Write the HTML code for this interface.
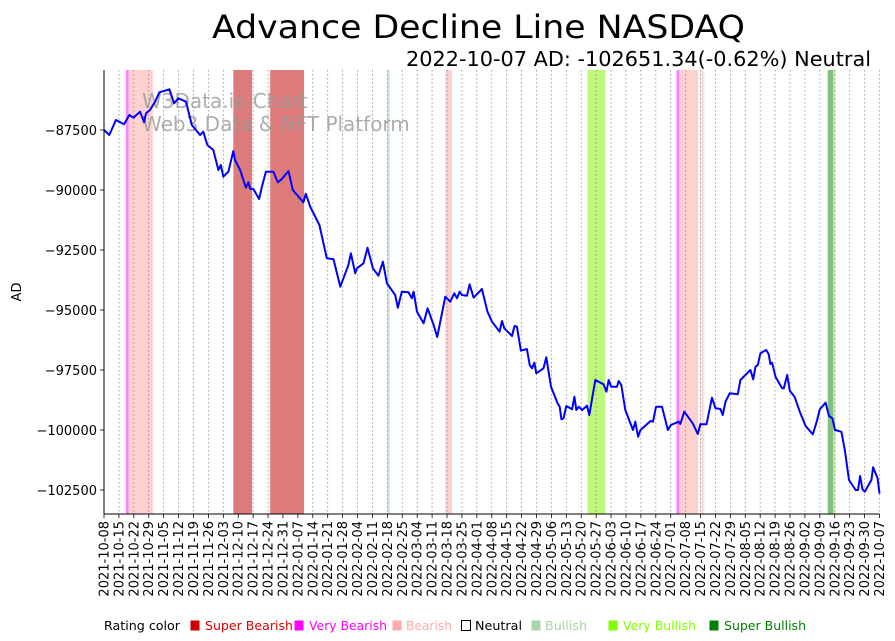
<!DOCTYPE html>
<html><head><meta charset="utf-8"><style>
body{margin:0;background:#fff;width:895px;height:641px;overflow:hidden;font-family:"DejaVu Sans","Liberation Sans",sans-serif}
svg{position:absolute;left:0;top:0;font-family:"DejaVu Sans","Liberation Sans",sans-serif}
</style></head><body>
<svg id="chart" width="895" height="641" xmlns="http://www.w3.org/2000/svg"></svg>
<script>
// data: day offset from 2021-10-08, AD value
const days=[0,2.5,5.6,9.4,11.9,13.8,16.9,18.8,19.7,21.6,24,26,30.7,32.9,34.9,38.5,41.2,45.1,46.6,48.5,51.3,53.7,54.8,56,58.4,60.7,61.5,63.9,66.6,67.8,68.6,70.1,72.8,74.1,76,79.5,81.6,83.5,86.6,88.6,93.6,94.7,96.8,101.1,104.6,107.7,110.9,114.7,115.9,117.9,118.7,121.8,123.7,126.2,128.8,130.9,132.8,136.7,137.9,139.8,142.9,144.5,145.3,146.9,150,151.9,154.7,156.4,160.2,162.5,164.4,165.7,166.9,168,170.4,171.6,173.5,177.4,180,182.1,185.7,186.8,187.9,191.5,192.7,193.8,195.7,198.5,199.8,200.9,202,202.9,206.3,207.6,209.8,212.9,213.9,214.7,215.7,217,219.7,220.8,221.7,222.8,224.4,226.7,227.8,230.6,234.5,235.8,236.9,238,240.8,241.6,242.8,244.7,248.3,249.4,250.7,251.8,256.5,257.7,259.1,261.9,264.7,266.1,269.7,270.5,272.4,276.3,278.7,279.9,282.8,285.4,287,289.3,290.4,291.7,293.7,297.5,298.7,303.4,304.7,305.8,306.9,308.1,310.8,312,312.8,313.6,315.2,318.3,319.1,320.7,321.9,324.1,326.6,329.3,332.7,334.5,336,338.7,340.3,341.9,343.1,346.1,347.7,349.7,352.8,353.9,354.9,356,357.1,360.2,361,363.1,364];
const adValues=[-87500,-87710,-87083,-87262,-86875,-86988,-86738,-87179,-86804,-86667,-86321,-85929,-85804,-86388,-86179,-86321,-87292,-87708,-87571,-88125,-88333,-89167,-88958,-89446,-89238,-88375,-88750,-89167,-89904,-89679,-89958,-89958,-90375,-89863,-89238,-89238,-89679,-89542,-89208,-90000,-90513,-90154,-90696,-91458,-92846,-92888,-94029,-93125,-92638,-93471,-93263,-93054,-92404,-93263,-93571,-92988,-93888,-94375,-94904,-94238,-94263,-94513,-94238,-95071,-95554,-94929,-95625,-96125,-94446,-94654,-94304,-94513,-94238,-94375,-94404,-93929,-94488,-94125,-95071,-95488,-95904,-95458,-95763,-96083,-95667,-95696,-96696,-96625,-97292,-97429,-97196,-97638,-97429,-96971,-98196,-98888,-99029,-99554,-99513,-99000,-99138,-98613,-99167,-99029,-99167,-98988,-99375,-97917,-98096,-98404,-97917,-98196,-98196,-97958,-98125,-99167,-100000,-99654,-100279,-100000,-99625,-99654,-99029,-99029,-100000,-99792,-99654,-99750,-99238,-99721,-100167,-99763,-99763,-98654,-99096,-99125,-99375,-98821,-98471,-98513,-97917,-97500,-97888,-97363,-97292,-96804,-96667,-96846,-97250,-97196,-97779,-98263,-98263,-97708,-98363,-98613,-99238,-99833,-100179,-99654,-99138,-98863,-99417,-99513,-100000,-100071,-100833,-102083,-102500,-102500,-101917,-102471,-102571,-102083,-101554,-102013,-102651];
const bandStart=[10.3,11.6,60.7,78,133,160.2,227,268.7,270.1,280,339.7,342.3];
const bandEnd=[11.6,22.9,69.5,93.9,134,163.3,235.3,270.1,278.9,281.8,342.3,343.4];
const bandColor=["#ff80ff","#ffd0d0","#e07b7b","#e07b7b","#c8e0c8","#ffd0d0","#bdf87a","#ff80ff","#ffd0d0","#ffe0e0","#80c080","#c8f0a0"];
const yTicks=[-87500,-90000,-92500,-95000,-97500,-100000,-102500];

const NS="http://www.w3.org/2000/svg";
const svg=document.getElementById('chart');
const L=104,R=879.5,T=70,B=514;
const xs=d=>L+d*(R-L)/364;
const ys=v=>130+(-87500-v)*0.024;
function mk(tag,attrs,parent){const e=document.createElementNS(NS,tag);for(const k in attrs)e.setAttribute(k,attrs[k]);(parent||svg).appendChild(e);return e;}

for(let i=0;i<bandStart.length;i++){
 const r=mk('rect',{x:xs(bandStart[i]),y:T,width:xs(bandEnd[i])-xs(bandStart[i]),height:B-T,fill:bandColor[i]});
 
 
}
const start=new Date(Date.UTC(2021,9,8));
for(let k=0;k<=52;k++){
 const x=xs(k*7);
 const g=mk('line',{x1:x,x2:x,y1:T,y2:B,stroke:'#888','stroke-width':0.8,'stroke-dasharray':'1.5,2.5'});
 
 
 mk('line',{x1:x,x2:x,y1:B,y2:B+4,stroke:'#000','stroke-width':0.8});
 const dt=new Date(start.getTime()+k*7*86400000);
 const s=dt.toISOString().slice(0,10);
 const t=mk('text',{x:0,y:0,transform:`translate(${x+4.5},${B+7}) rotate(-90)`,'text-anchor':'end','font-size':13});
 t.textContent=s;
 
 
}
yTicks.forEach(v=>{
 const y=ys(v);
 mk('line',{x1:L-4,x2:L,y1:y,y2:y,stroke:'#000','stroke-width':0.8});
 const t=mk('text',{x:L-7,y:y+5,'text-anchor':'end','font-size':13});
 t.textContent=String(v).replace('-','\u2212');
 
 
});
const w1=mk('text',{x:142,y:108,'font-size':20,fill:'#999','fill-opacity':0.8});w1.textContent='W3Data.io Chart';


const w2=mk('text',{x:142,y:131,'font-size':20,fill:'#999','fill-opacity':0.8});w2.textContent='Web3 Data & NFT Platform';


let d='';for(let i=0;i<days.length;i++)d+=(i?'L':'M')+xs(days[i]).toFixed(1)+','+ys(adValues[i]).toFixed(1);
const p=mk('path',{d:d,fill:'none',stroke:'#0000ff','stroke-width':2,'stroke-linejoin':'round'});


mk('line',{x1:L,x2:L,y1:T,y2:B,stroke:'#000','stroke-width':1});
mk('line',{x1:L,x2:R,y1:B,y2:B,stroke:'#000','stroke-width':1});
const tt=mk('text',{x:212,y:38,'font-size':32,textLength:533,lengthAdjust:'spacingAndGlyphs'});tt.textContent='Advance Decline Line NASDAQ';


const st=mk('text',{x:406,y:66,'font-size':20,textLength:465,lengthAdjust:'spacingAndGlyphs'});st.textContent='2022-10-07 AD: -102651.34(-0.62%) Neutral';


const yl=mk('text',{x:0,y:0,transform:'translate(21,292) rotate(-90)','text-anchor':'middle','font-size':13});yl.textContent='AD';


// legend: [swatchX, swatchColor, textX, label, textColor, textWidth]
const leg=[[null,null,104,'Rating color','#000',76],[190,'#cc0000',205,'Super Bearish','#dd0000',88],[294,'#ff00ff',309,'Very Bearish','#ff00ff',78],[392,'#ffaaaa',406,'Bearish','#ffaaaa',46],[461,'none',475,'Neutral','#000',47],[531,'#aad4aa',545,'Bullish','#aad4aa',42],[608,'#80ff00',623,'Very Bullish','#80ff00',73],[709,'#008000',724,'Super Bullish','#008000',82]];
leg.forEach(l=>{
 if(l[1]){const r=mk('rect',{x:l[0]+0.5,y:620.5,width:9,height:10,fill:l[1],stroke:l[1]==='none'?'#000':'none','stroke-width':1});
  
  }
 const t=mk('text',{x:l[2],y:630,'font-size':12,fill:l[4],textLength:l[5],lengthAdjust:'spacingAndGlyphs'});t.textContent=l[3];
 
 
});
</script>
</body></html>
